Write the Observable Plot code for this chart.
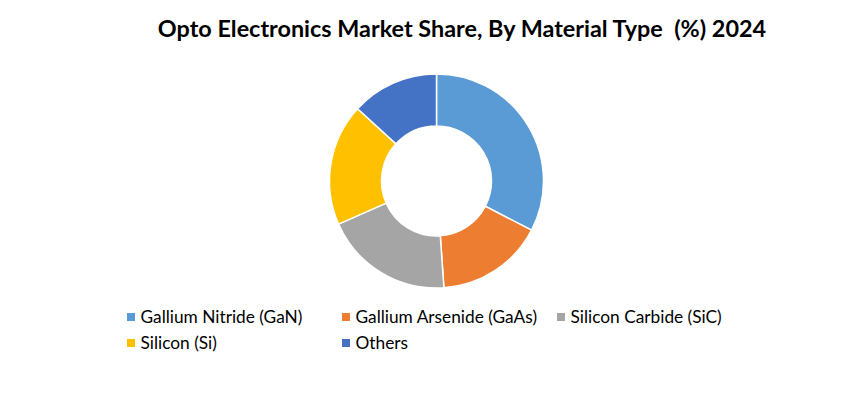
<!DOCTYPE html>
<html><head><meta charset="utf-8">
<script src="https://cdn.jsdelivr.net/npm/d3@7"></script>
<script src="https://cdn.jsdelivr.net/npm/@observablehq/plot@0.6"></script>
<style>
body{margin:0;background:#fff;}
#wrap{position:relative;width:866px;height:397px;overflow:hidden;font-family:Lato,"Open Sans",sans-serif;color:#000;}
#title{position:absolute;left:58px;width:808px;top:14.2px;text-align:center;font-weight:bold;font-size:23.4px;line-height:normal;white-space:pre;}
#chart{position:absolute;left:0;top:50px;}
.item{position:absolute;font-size:17.3px;line-height:normal;white-space:nowrap;}
.sw{position:absolute;left:0;top:7px;width:8px;height:8px;}
.lbl{position:absolute;left:13.5px;top:0;}
</style></head>
<body><div id="wrap"><div id="title"></div><div id="chart"></div><div id="legend"></div></div>
<script>
const title = "Opto Electronics Market Share, By Material Type  (%) 2024";
const materials = ["Gallium Nitride (GaN)", "Gallium Arsenide (GaAs)", "Silicon Carbide (SiC)", "Silicon (Si)", "Others"];
const shares = [32.6, 16.3, 19.5, 18.4, 13.2];
const colors = ["#5B9BD5", "#ED7D31", "#A5A5A5", "#FFC000", "#4472C4"];

document.getElementById("title").textContent = title;
const data = materials.map((m, i) => ({material: m, share: shares[i]}));

const outerR = 107, innerR = 55;
const donut = (index, scales, values, dimensions) => {
  const cx = dimensions.marginLeft + (dimensions.width - dimensions.marginLeft - dimensions.marginRight) / 2;
  const cy = dimensions.marginTop + (dimensions.height - dimensions.marginTop - dimensions.marginBottom) / 2;
  const arcs = d3.pie().sort(null).value(d => d.share)(data);
  const arc = d3.arc().innerRadius(innerR).outerRadius(outerR);
  const g = d3.create("svg:g").attr("transform", `translate(${cx},${cy})`);
  g.selectAll("path").data(arcs).join("path")
    .attr("d", arc)
    .attr("fill", d => scales.color(d.data.material))
    .attr("stroke", "#fff")
    .attr("stroke-width", 1.5)
    .attr("stroke-linejoin", "round");
  return g.node();
};

const chart = Plot.plot({
  width: 866,
  height: 262,
  marginLeft: 7, marginRight: 0, marginTop: 0, marginBottom: 0,
  x: {axis: null, domain: [0, 1]},
  y: {axis: null, domain: [0, 1]},
  color: {domain: materials, range: colors},
  marks: [
    Plot.dot(data, {x: () => 0.5, y: () => 0.5, fill: "material", r: 0}),
    donut
  ]
});
document.getElementById("chart").appendChild(chart);

const color = chart.scale("color");
const legend = document.getElementById("legend");
materials.forEach((m, i) => {
  const it = document.createElement("div");
  it.className = "item";
  it.style.left = (127 + (i % 3) * 215) + "px";
  it.style.top = (306 + Math.floor(i / 3) * 26) + "px";
  const sw = document.createElement("span");
  sw.className = "sw";
  sw.style.background = color.range[color.domain.indexOf(m)];
  const lb = document.createElement("span");
  lb.className = "lbl";
  lb.textContent = m;
  it.appendChild(sw); it.appendChild(lb);
  legend.appendChild(it);
});
</script></body></html>
